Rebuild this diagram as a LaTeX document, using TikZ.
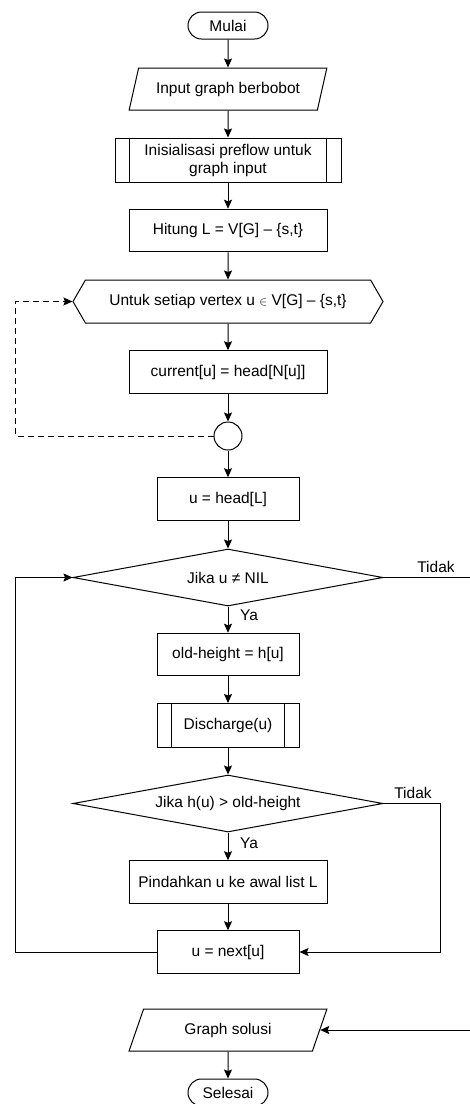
\documentclass[tikz,border=0pt]{standalone}
\usepackage{fontspec}
\setmainfont{Liberation Sans}
\usetikzlibrary{shapes.geometric,shapes.misc,shapes.symbols,arrows.meta,calc}
\begin{document}
\begin{tikzpicture}[x=1pt,y=-1pt,
  every node/.style={font=\fontsize{15.5}{18}\selectfont, line width=1pt, inner sep=2pt},
  box/.style={draw, rectangle, minimum width=#1, minimum height=42.5, align=center},
  box/.default=198,
  term/.style={draw, rounded rectangle, minimum width=84, minimum height=27},
  io/.style={draw, trapezium, trapezium left angle=67, trapezium right angle=113,
    trapezium stretches=true, minimum width=198, minimum height=42},
  pproc/.style={box=#1, minimum height=44,
    path picture={\draw[line width=1pt]
      ([xshift=14.5pt]path picture bounding box.north west) -- ([xshift=14.5pt]path picture bounding box.south west)
      ([xshift=-14.5pt]path picture bounding box.north east) -- ([xshift=-14.5pt]path picture bounding box.south east);}},
  hexa/.style={draw, signal, signal to=east and west, signal pointer angle=120,
    minimum width=310, minimum height=43},
  dec/.style={draw, diamond, aspect=5.4, minimum width=310, minimum height=57, inner sep=1pt},
  conn/.style={draw, circle, minimum size=28, inner sep=0pt},
  arr/.style={line width=1pt, -{Stealth[length=9pt,width=8pt,inset=1.5pt]}},
  dasharr/.style={arr, dash pattern=on 6pt off 4pt},
  lbl/.style={inner sep=0pt}
]
\useasboundingbox (0,0) rectangle (470,1104);
\node[term] (mulai) at (228,25.5) {Mulai};
\node[io] (input) at (228,89) {Input graph berbobot};
\node[pproc=226] (init) at (228,160) {Inisialisasi preflow untuk\\graph input};
\node[box] (hitung) at (228,230.5) {Hitung L = V[G] – \{s,t\}};
\node[hexa] (hex) at (228,301.5) {Untuk setiap vertex u {\fontsize{12}{14}\selectfont$\in$} V[G] – \{s,t\}};
\node[box] (cur) at (228,372) {current[u] = head[N[u]]};
\node[conn] (circ) at (228,436) {};
\node[box=142] (uhead) at (228,499) {u = head[L]};
\node[dec] (d1) at (228,577.5) {Jika u ≠ NIL};
\node[box=142] (old) at (228,654.5) {old-height = h[u]};
\node[pproc=142] (dis) at (228,725.5) {Discharge(u)};
\node[dec] (d2) at (228,803.5) {Jika h(u) > old-height};
\node[box] (pind) at (228,882) {Pindahkan u ke awal list L};
\node[box=142] (next) at (228,952) {u = next[u]};
\node[io] (gs) at (228,1030) {Graph solusi};
\node[term] (sel) at (228,1092.5) {Selesai};

\draw[arr] (mulai) -- (input);
\draw[arr] (input) -- (init);
\draw[arr] (init) -- (hitung);
\draw[arr] (hitung) -- (hex);
\draw[arr] (hex) -- (cur);
\draw[arr] (cur) -- (circ);
\draw[arr] (circ) -- (uhead);
\draw[arr] (uhead) -- (d1);
\draw[arr] (d1) -- (old);
\draw[arr] (old) -- (dis);
\draw[arr] (dis) -- (d2);
\draw[arr] (d2) -- (pind);
\draw[arr] (pind) -- (next);
\draw[arr] (gs) -- (sel);
\draw[dasharr] (circ.west) -- ++(-198,0) |- (hex.west);
\draw[arr] (next.west) -- ++(-141,0) |- (d1.west);
\draw[arr] (d2.east) -- ++(57,0) |- (next.east);
\draw[arr] (d1.east) -- ++(88.5,0) |- (gs.east);

\node[lbl] (t1) at (436,567) {Tidak};
\node[lbl] (y1) at (249,615) {Ya};
\node[lbl] (t2) at (413,793) {Tidak};
\node[lbl] (y2) at (249,843) {Ya};
\end{tikzpicture}
\end{document}
